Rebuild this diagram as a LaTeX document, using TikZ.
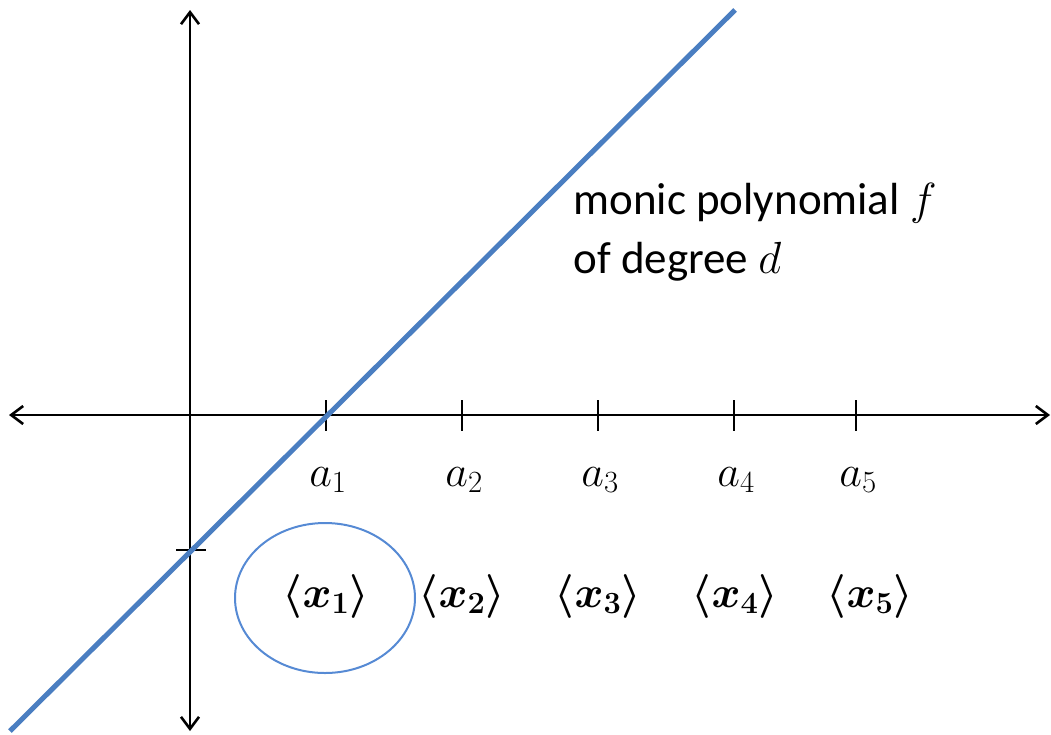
\RequirePackage{fix-cm}
\documentclass[tikz,border=0pt]{standalone}
\usepackage{fontspec}
\setmainfont{Carlito}
\usepackage{amsmath,bm}
\usetikzlibrary{arrows.meta,shapes.geometric}
\definecolor{lineblue}{RGB}{74,126,193}
\definecolor{ellblue}{RGB}{86,138,212}
\begin{document}
\begin{tikzpicture}[x=1pt,y=-1pt,
  axis/.style={line width=2.4pt,{Straight Barb[length=12pt,width=18pt,line width=2.6pt]}-{Straight Barb[length=12pt,width=18pt,line width=2.6pt]}},
  tickmark/.style={line width=1.8pt},
  alabel/.style={font=\fontsize{44}{50}\selectfont},
  xlabel/.style={font=\fontsize{44}{50}\selectfont\boldmath},
  txt/.style={font=\fontsize{45}{59}\selectfont, align=left, anchor=west},
  ring/.style={draw=ellblue, line width=2pt, ellipse, minimum width=180pt, minimum height=150pt, inner sep=0pt}]
\useasboundingbox (0,0) rectangle (1051,734);
\coordinate (yt) at (190,10);
\coordinate (yb) at (190,731);
\coordinate (xl) at (9,415);
\coordinate (xr) at (1050,415);
\draw[axis] (yb) -- (yt);
\draw[axis] (xl) -- (xr);
% ticks
\foreach \i/\x in {1/326,2/462,3/598,4/734,5/856}{
  \coordinate (t\i a) at (\x,400);
  \coordinate (t\i b) at (\x,431);
  \draw[tickmark] (t\i a) -- (t\i b);
  \node[alabel] (a\i) at (\x+2,480) {$a_{\i}$};
}
\coordinate (yta) at (176,550);
\coordinate (ytb) at (206,550);
\draw[tickmark] (yta) -- (ytb);
% polynomial line
\coordinate (p0) at (10,731);
\coordinate (p1) at (735,10);
\draw[lineblue, line width=5pt] (p0) -- (p1);
% ellipse
\node[ring] (ell) at (325,598) {};
\foreach \i/\x in {1/326,2/462,3/598,4/735,5/870}{
  \node[xlabel] (x\i) at (\x,596) {$\langle x_{\i}\rangle$};
}
\node[txt] (lbl) at (570,232) {monic polynomial $f$\\of degree $d$};
\end{tikzpicture}
\end{document}
